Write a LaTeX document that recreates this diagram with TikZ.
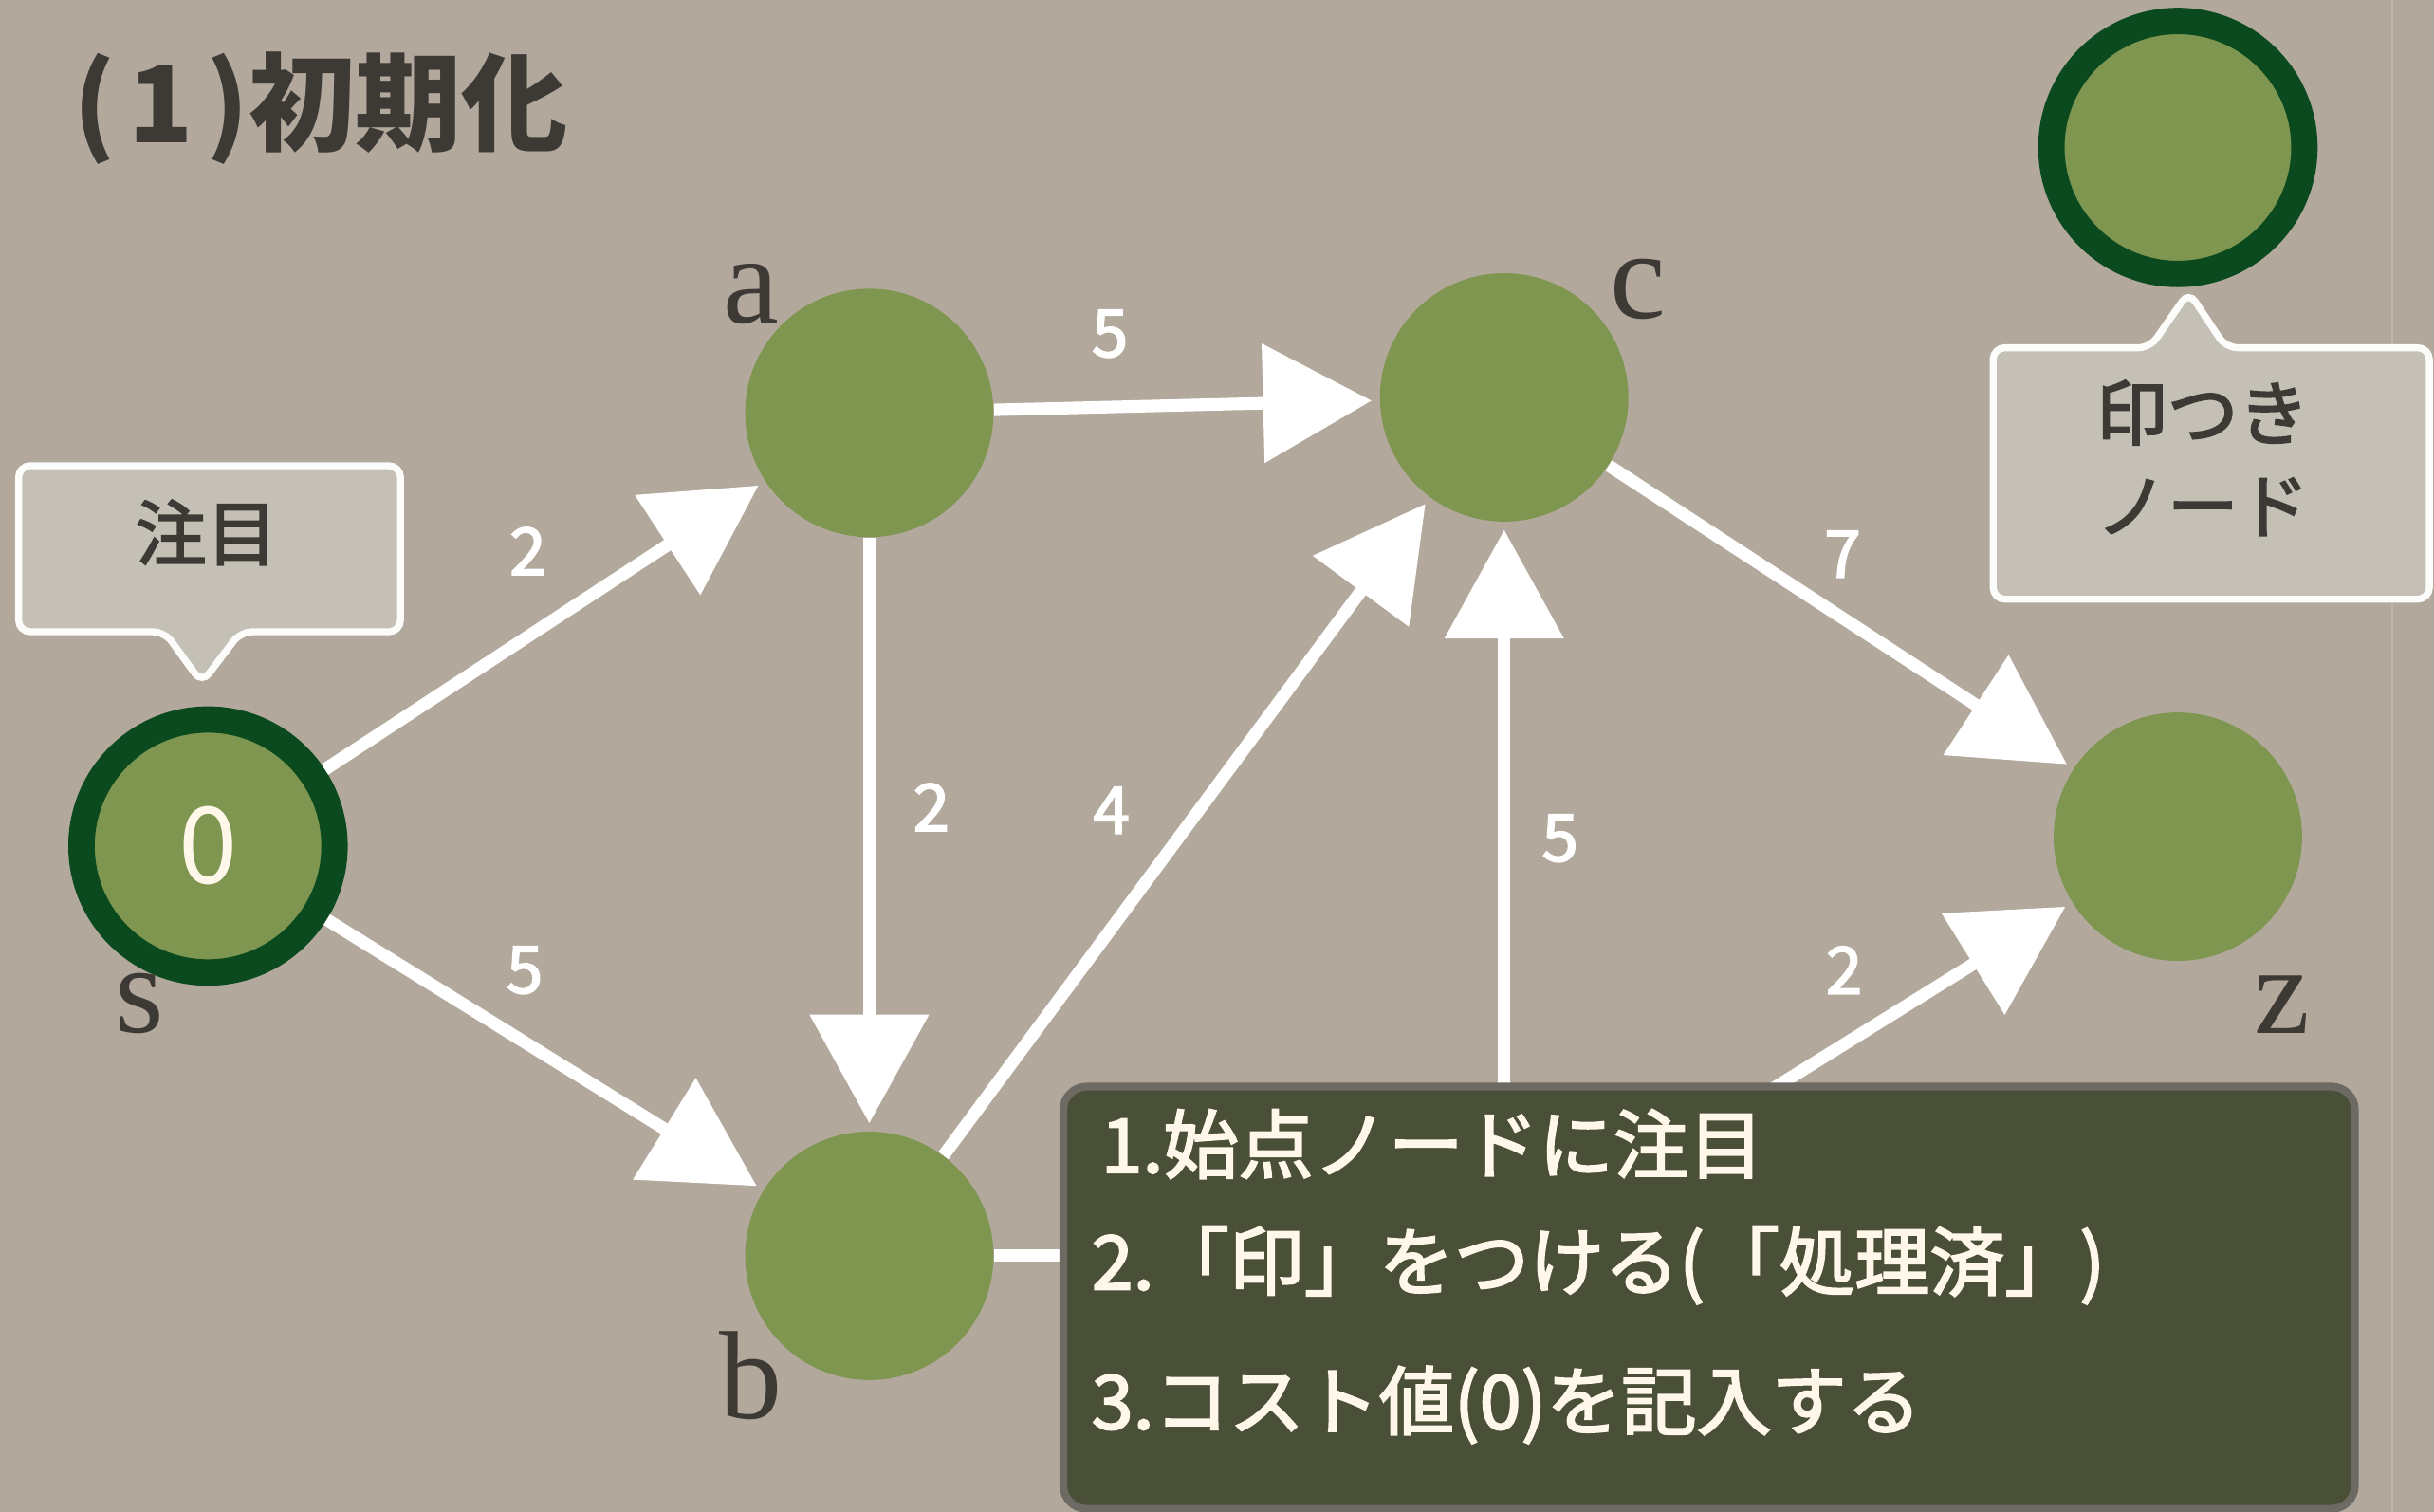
\documentclass[tikz,border=0pt]{standalone}
\usepackage{fontspec}
\usepackage{xcolor}
\usepackage{tikz}
\usetikzlibrary{arrows.meta}

\newfontfamily\jpfont{Noto Sans CJK JP}
\newfontfamily\jpmedium[FakeBold=2.5]{Noto Sans CJK JP}
\newfontfamily\namefont{Liberation Serif}

\definecolor{paper}{HTML}{B2A89C}
\definecolor{paperline}{HTML}{BEB4A9}
\definecolor{leaf}{HTML}{7F9650}
\definecolor{brush}{HTML}{0B4A1F}
\definecolor{ink}{HTML}{3D3935}
\definecolor{tag}{HTML}{C4C0B6}
\definecolor{board}{HTML}{4A5037}
\definecolor{boardedge}{HTML}{6C6A62}
\definecolor{cream}{HTML}{FFF7EA}

\tikzset{
	vertex/.style={circle, fill=leaf, minimum size=32mm, inner sep=0pt},
	marked/.style={circle, fill=leaf, draw=brush, line width=3.4mm, minimum size=32.6mm, inner sep=0pt},
	edge/.style={draw=white, line width=1.6mm, -{Triangle[length=14mm, width=15mm]}, shorten >=1mm},
	weight/.style={text=white, font=\jpmedium\fontsize{24}{24}\selectfont},
	letter/.style={text=ink, anchor=base, font=\namefont\fontsize{46}{46}\selectfont},
	tagbox/.style={fill=tag, draw=white!96!paper, line width=0.9mm, rounded corners=1.5mm},
	tagtext/.style={text=ink, font=\jpmedium\fontsize{26}{34}\selectfont, align=center},
	notebox/.style={fill=board, draw=boardedge, line width=1mm, rounded corners=3mm},
	notetext/.style={text=cream, anchor=west, font=\jpmedium\fontsize{27.5}{27.5}\selectfont},
}

\begin{document}
\begin{tikzpicture}[x=0.2mm, y=-0.2mm]
	% background
	\fill[paper] (0,0) rectangle (1568,974);
	\useasboundingbox (0,0) rectangle (1568,974);
	\draw[paperline, line width=0.3mm] (1541,0) -- (1541,974);

	\node[text=ink, anchor=west, font=\jpfont\bfseries\fontsize{39}{39}\selectfont] (title) at (41,70) {(\kern.12em1\kern.12em)初期化};

	% nodes
	\node[marked, text=cream, font=\jpfont\fontsize{39}{39}\selectfont] (s) at (134,545) {0};
	\node[vertex] (a) at (560,266) {};
	\node[vertex] (c) at (969,256) {};
	\node[vertex] (b) at (560,809) {};
	\node[vertex] (d) at (969,809) {};
	\node[vertex] (z) at (1403,539) {};

	\node[letter] (sname) at (90,665) {s};
	\node[letter] (aname) at (484,208) {a};
	\node[letter] (cname) at (1055,205) {c};
	\node[letter] (bname) at (484,914) {b};
	\node[letter] (zname) at (1470,666) {z};

	% edges
	\draw[edge] (s) -- (a);
	\draw[edge] (s) -- (b);
	\draw[edge] (a) -- (c);
	\draw[edge] (a) -- (b);
	\draw[edge] (b) -- (c);
	\draw[edge] (b) -- (d);
	\draw[edge] (d) -- (c);
	\draw[edge] (d) -- (z);
	\draw[edge] (c) -- (z);

	\draw[] (340,355) node[weight] {2};
	\draw[] (338,625) node[weight] {5};
	\draw[] (715,215) node[weight] {5};
	\draw[] (600,520) node[weight] {2};
	\draw[] (716,522) node[weight] {4};
	\draw[] (1005,540) node[weight] {5};
	\draw[] (1187,357) node[weight] {7};
	\draw[] (1188,625) node[weight] {2};

	% callouts
	\draw[tagbox] (12,300) -- (258,300) -- (258,407) -- (155,407) -- (130,440) -- (106,407) -- (12,407) -- cycle;
	\node[tagtext] (focus) at (133,343) {注目};

	\node[marked] (legend) at (1403,95) {};
	\draw[tagbox] (1284,224) -- (1385,224) -- (1410,188) -- (1434,224) -- (1565,224) -- (1565,386) -- (1284,386) -- cycle;
	\node[tagtext] (legendtext) at (1419,295) {印つき\\ノード};

	% steps
	\draw[notebox] (685,700) rectangle (1517,972);
	\node[notetext] (step1) at (703,737) {1.始点ノードに注目};
	\node[notetext] (step2) at (697,815) {2.「印」をつける(「処理済」)};
	\node[notetext] (step3) at (697,905) {3.コスト値(0)を記入する};
\end{tikzpicture}
\end{document}
